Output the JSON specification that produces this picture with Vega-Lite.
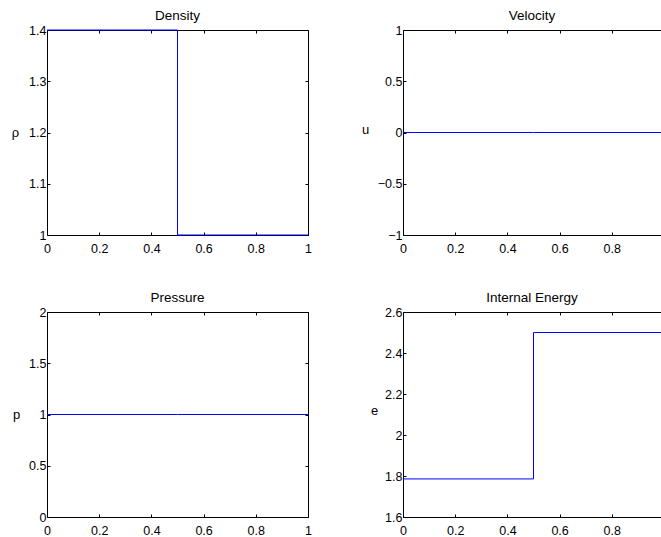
{
  "$schema": "https://vega.github.io/schema/vega-lite/v6.json",
  "background": "white",
  "padding": {"left": 11, "top": 8, "right": 0, "bottom": 0},
  "columns": 2,
  "spacing": {"column": 95, "row": 77},
  "bounds": "flush",
  "datasets": {
    "density": [{"x": 0, "v": 1.4}, {"x": 0.5, "v": 1.0}, {"x": 1, "v": 1.0}],
    "velocity": [{"x": 0, "v": 0}, {"x": 0.5, "v": 0}, {"x": 1, "v": 0}],
    "pressure": [{"x": 0, "v": 1}, {"x": 0.5, "v": 1}, {"x": 1, "v": 1}],
    "energy": [{"x": 0, "v": 1.7857}, {"x": 0.5, "v": 2.5}, {"x": 1, "v": 2.5}]
  },
  "concat": [
    {
      "title": "Density",
      "width": 261, "height": 205,
      "data": {"name": "density"},
      "layer": [
        {
          "mark": {"type": "line", "interpolate": "step-after", "strokeOpacity": 0, "opacity": 0},
          "encoding": {
            "x": {"field": "x", "type": "quantitative", "axis": {"orient": "top", "values": [0, 0.2, 0.4, 0.6, 0.8, 1], "labels": false, "title": null}},
            "y": {"field": "v", "type": "quantitative", "axis": {"orient": "right", "values": [1, 1.1, 1.2, 1.3, 1.4], "labels": false, "title": null}}
          }
        },
        {
          "mark": {"type": "line", "interpolate": "step-after", "color": "#0000ff", "strokeWidth": 1},
          "encoding": {
            "x": {"field": "x", "type": "quantitative", "scale": {"domain": [0, 1], "nice": false, "zero": false},
                  "axis": {"orient": "bottom", "values": [0, 0.2, 0.4, 0.6, 0.8, 1], "title": null}},
            "y": {"field": "v", "type": "quantitative", "scale": {"domain": [1, 1.4], "nice": false, "zero": false},
                  "axis": {"orient": "left", "values": [1, 1.1, 1.2, 1.3, 1.4], "title": "ρ", "titleX": -32, "titleY": 102}}
          }
        }
      ],
      "resolve": {"axis": {"x": "independent", "y": "independent"}}
    },
    {
      "title": "Velocity",
      "width": 258, "height": 205,
      "data": {"name": "velocity"},
      "layer": [
        {
          "mark": {"type": "line", "interpolate": "step-after", "strokeOpacity": 0, "opacity": 0},
          "encoding": {
            "x": {"field": "x", "type": "quantitative", "axis": {"orient": "top", "values": [0, 0.2, 0.4, 0.6, 0.8], "labels": false, "title": null}},
            "y": {"field": "v", "type": "quantitative"}
          }
        },
        {
          "mark": {"type": "line", "interpolate": "step-after", "color": "#0000ff", "strokeWidth": 1, "clip": true},
          "encoding": {
            "x": {"field": "x", "type": "quantitative", "scale": {"domain": [0, 0.9885], "nice": false, "zero": false},
                  "axis": {"orient": "bottom", "values": [0, 0.2, 0.4, 0.6, 0.8], "title": null}},
            "y": {"field": "v", "type": "quantitative", "scale": {"domain": [-1, 1], "nice": false, "zero": false},
                  "axis": {"orient": "left", "values": [-1, -0.5, 0, 0.5, 1], "title": "u", "titleX": -38, "titleY": 99}}
          }
        }
      ],
      "resolve": {"axis": {"x": "independent"}}
    },
    {
      "title": "Pressure",
      "width": 261, "height": 205,
      "data": {"name": "pressure"},
      "layer": [
        {
          "mark": {"type": "line", "interpolate": "step-after", "strokeOpacity": 0, "opacity": 0},
          "encoding": {
            "x": {"field": "x", "type": "quantitative", "axis": {"orient": "top", "values": [0, 0.2, 0.4, 0.6, 0.8, 1], "labels": false, "title": null}},
            "y": {"field": "v", "type": "quantitative", "axis": {"orient": "right", "values": [0, 0.5, 1, 1.5, 2], "labels": false, "title": null}}
          }
        },
        {
          "mark": {"type": "line", "interpolate": "step-after", "color": "#0000ff", "strokeWidth": 1},
          "encoding": {
            "x": {"field": "x", "type": "quantitative", "scale": {"domain": [0, 1], "nice": false, "zero": false},
                  "axis": {"orient": "bottom", "values": [0, 0.2, 0.4, 0.6, 0.8, 1], "title": null}},
            "y": {"field": "v", "type": "quantitative", "scale": {"domain": [0, 2], "nice": false, "zero": false},
                  "axis": {"orient": "left", "values": [0, 0.5, 1, 1.5, 2], "title": "p", "titleX": -31, "titleY": 102}}
          }
        }
      ],
      "resolve": {"axis": {"x": "independent", "y": "independent"}}
    },
    {
      "title": "Internal Energy",
      "width": 258, "height": 205,
      "data": {"name": "energy"},
      "layer": [
        {
          "mark": {"type": "line", "interpolate": "step-after", "strokeOpacity": 0, "opacity": 0},
          "encoding": {
            "x": {"field": "x", "type": "quantitative", "axis": {"orient": "top", "values": [0, 0.2, 0.4, 0.6, 0.8], "labels": false, "title": null}},
            "y": {"field": "v", "type": "quantitative"}
          }
        },
        {
          "mark": {"type": "line", "interpolate": "step-after", "color": "#0000ff", "strokeWidth": 1, "clip": true},
          "encoding": {
            "x": {"field": "x", "type": "quantitative", "scale": {"domain": [0, 0.9885], "nice": false, "zero": false},
                  "axis": {"orient": "bottom", "values": [0, 0.2, 0.4, 0.6, 0.8], "title": null}},
            "y": {"field": "v", "type": "quantitative", "scale": {"domain": [1.6, 2.6], "nice": false, "zero": false},
                  "axis": {"orient": "left", "values": [1.6, 1.8, 2, 2.2, 2.4, 2.6], "title": "e", "titleX": -29, "titleY": 98}}
          }
        }
      ],
      "resolve": {"axis": {"x": "independent"}}
    }
  ],
  "config": {
    "font": "Liberation Sans",
    "view": {"stroke": null},
    "axis": {
      "grid": false,
      "domainColor": "#000000",
      "domainWidth": 1,
      "tickColor": "#000000",
      "tickWidth": 1,
      "tickSize": -3,
      "labelColor": "#000000",
      "labelFont": "Liberation Sans",
      "labelFontSize": 12.5,
      "labelFlush": false,
      "labelOverlap": false,
      "labelPadding": 10,
      "format": "~g",
      "titleFont": "Liberation Sans",
      "titleFontSize": 13,
      "titleFontWeight": "normal",
      "titleColor": "#000000",
      "titleAngle": 0,
      "titleAlign": "center",
      "titleBaseline": "middle"
    },
    "axisLeft": {"labelPadding": 4},
    "axisRight": {"labelPadding": 0, "minExtent": 0, "maxExtent": 0},
    "axisTop": {"labelPadding": 0, "minExtent": 0, "maxExtent": 0},
    "title": {"font": "Liberation Sans", "fontSize": 13.5, "fontWeight": "normal", "color": "#000000", "offset": 2, "baseline": "alphabetic", "anchor": "middle", "frame": "group"}
  }
}
